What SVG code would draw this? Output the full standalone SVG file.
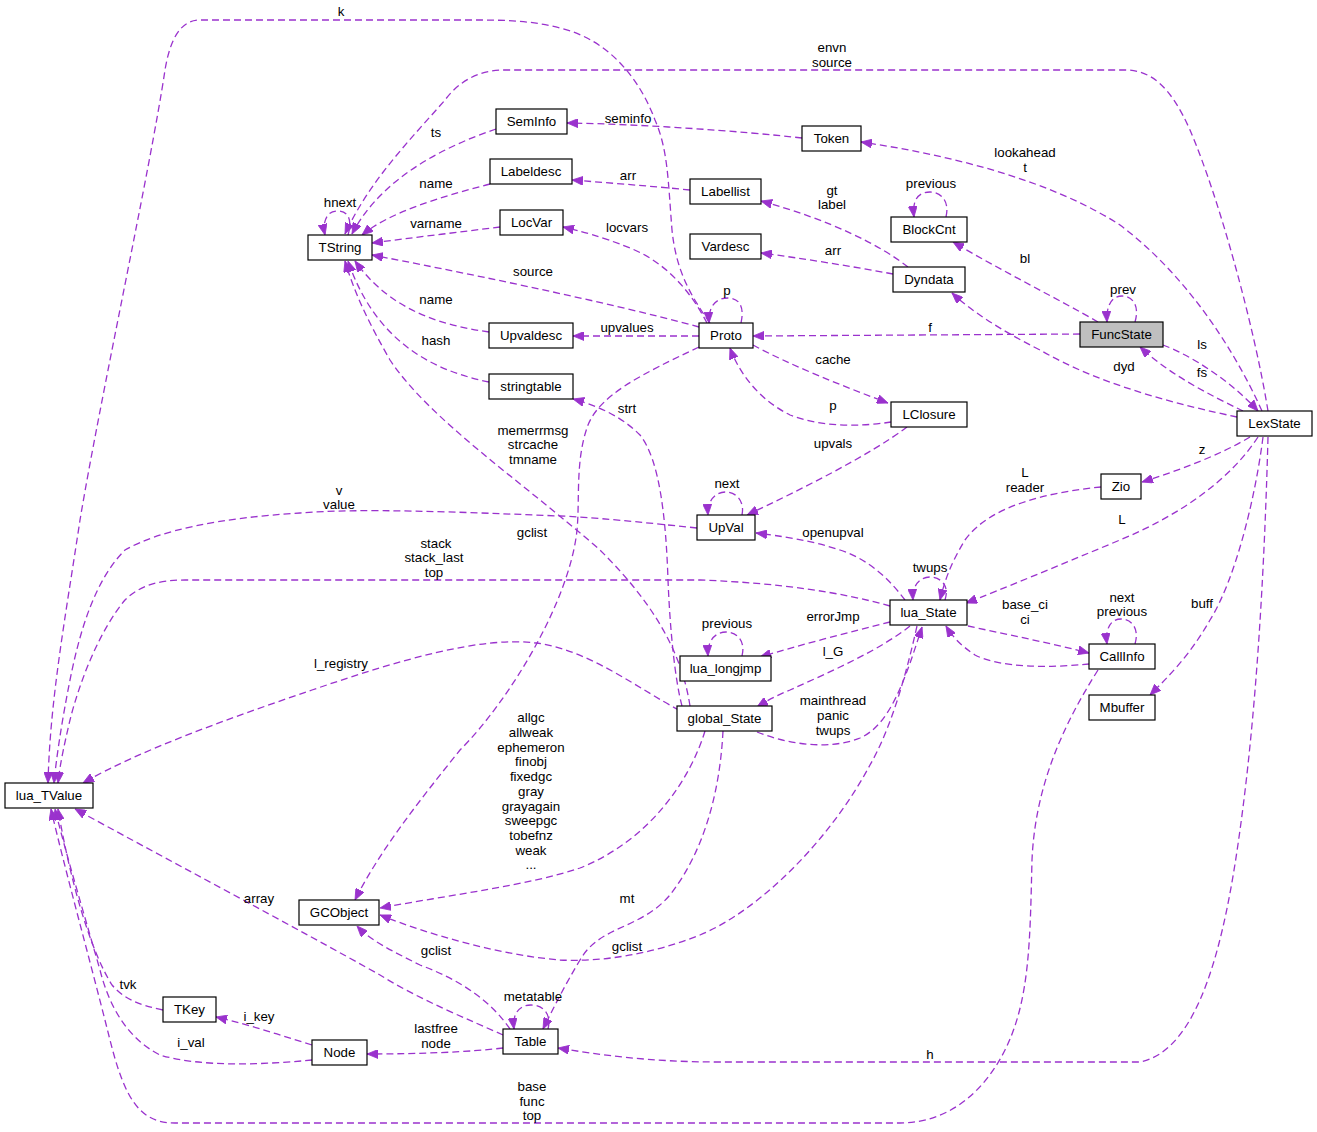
<svg xmlns="http://www.w3.org/2000/svg" width="1317" height="1132" viewBox="0 0 1317 1132">
<style>
.n rect{fill:#fff;stroke:#000;stroke-width:1.2}
.n text{font-family:"Liberation Sans",Arial,sans-serif;font-size:13.3px;text-anchor:middle;fill:#000}
.e path{fill:none;stroke:#9a32cd;stroke-width:1.3;stroke-dasharray:7,4;marker-end:url(#a)}
.l text{font-family:"Liberation Sans",Arial,sans-serif;font-size:13.3px;text-anchor:middle;fill:#000}
</style>
<defs>
<marker id="a" viewBox="0 0 11 9" refX="11" refY="4.5" markerWidth="11" markerHeight="9" markerUnits="userSpaceOnUse" orient="auto">
<path d="M0,0 L11,4.5 L0,9 z" fill="#9a32cd" stroke="#9a32cd" stroke-width="0.8"/>
</marker>
</defs>
<rect width="1317" height="1132" fill="#fff"/>
<g id="edges" class="e">
<path d="M710,323 C690,295 676,270 672,230 C668,180 668,150 655,120 C640,80 610,40 560,28 C530,20 500,20 470,20 L200,20 C180,20 170,40 165,70 C150,170 100,400 80,520 C65,620 50,700 48,783"/>
<path d="M1268,411 C1255,330 1220,200 1190,130 C1170,85 1150,70 1125,70 L505,70 C480,70 460,80 445,100 C410,140 370,180 345,234"/>
<path d="M802,138 C740,131 640,124 567,123"/>
<path d="M496,129 C440,148 380,180 352,234"/>
<path d="M490,184 C440,197 390,212 362,235"/>
<path d="M500,227 C460,232 410,238 372,243"/>
<path d="M699,327 C600,300 450,270 372,255"/>
<path d="M489,332 C440,325 390,310 355,261"/>
<path d="M489,382 C430,370 375,340 348,261"/>
<path d="M690,706 C680,640 640,590 600,550 C520,480 430,420 390,360 C370,325 355,295 345,261"/>
<path d="M348,235 C352,222 350,211 337,211 C327,211 322,222 325,235"/>
<path d="M707,323 C690,290 665,262 630,248 C600,236 580,231 563,227"/>
<path d="M699,336 L573,336"/>
<path d="M741,323 C745,305 738,298 728,298 C717,298 708,305 709,323"/>
<path d="M1080,334 L753,336"/>
<path d="M753,345 C790,365 840,385 888,403"/>
<path d="M891,422 C860,427 820,427 790,415 C760,400 740,375 730,348"/>
<path d="M699,347 C640,375 600,395 588,425 C575,460 580,500 577,530 C570,600 510,700 460,750 C420,800 380,850 355,900"/>
<path d="M682,706 C675,680 670,630 668,580 C666,520 660,460 640,435 C620,415 595,405 573,399"/>
<path d="M690,190 C650,186 610,183 572,180"/>
<path d="M908,267 C880,245 830,220 761,201"/>
<path d="M946,217 C950,200 940,192 930,192 C918,192 912,200 914,217"/>
<path d="M893,274 C850,266 800,258 761,253"/>
<path d="M1098,322 C1060,300 1000,270 953,242"/>
<path d="M1135,322 C1140,305 1132,296 1122,296 C1112,296 1106,305 1107,322"/>
<path d="M1163,345 C1190,355 1230,380 1258,411"/>
<path d="M1243,411 C1210,395 1170,375 1140,347"/>
<path d="M1237,417 C1180,405 1100,385 1040,350 C1000,330 970,310 952,293"/>
<path d="M1262,411 C1230,340 1180,270 1120,225 C1050,180 950,155 861,142"/>
<path d="M907,427 C870,455 800,490 747,515"/>
<path d="M742,515 C745,500 735,492 726,492 C716,492 707,500 708,515"/>
<path d="M905,600 C890,580 870,560 840,550 C810,540 780,536 756,533"/>
<path d="M697,528 C640,522 590,517 560,516 C460,512 360,508 300,513 C220,518 160,530 125,550 C95,580 80,630 70,680 C62,720 56,760 54,783"/>
<path d="M890,606 C840,592 780,583 700,580 L185,580 C160,580 140,585 125,600 C100,630 80,680 70,720 C63,750 60,765 58,783"/>
<path d="M945,600 C950,585 940,577 930,577 C920,577 912,585 913,600"/>
<path d="M1101,487 C1050,492 990,505 965,540 C950,565 945,580 940,600"/>
<path d="M1258,437 C1230,480 1180,515 1120,540 C1060,565 1000,590 966,603"/>
<path d="M1250,437 C1220,455 1180,470 1142,482"/>
<path d="M1263,437 C1255,500 1235,580 1210,620 C1190,655 1170,675 1150,695"/>
<path d="M1268,437 C1265,550 1258,700 1240,830 C1225,940 1200,1050 1140,1062 L720,1062 C650,1062 600,1055 558,1048"/>
<path d="M968,626 C1000,633 1050,643 1089,653"/>
<path d="M1089,664 C1050,668 1000,668 975,655 C960,645 952,636 946,626"/>
<path d="M1135,644 C1140,627 1130,619 1121,619 C1111,619 1105,628 1107,644"/>
<path d="M890,622 C850,632 800,645 760,657"/>
<path d="M742,656 C746,640 736,632 726,632 C716,632 707,640 708,656"/>
<path d="M910,626 C880,650 830,672 790,690 C775,696 765,702 757,707"/>
<path d="M757,732 C790,745 830,750 860,738 C890,725 905,680 922,627"/>
<path d="M917,626 C905,680 890,730 870,765 C830,840 760,910 700,935 C650,955 600,962 560,960 C500,955 430,935 380,915"/>
<path d="M705,731 C690,780 650,840 580,868 C530,885 450,895 380,908"/>
<path d="M723,731 C720,790 705,850 670,895 C640,930 600,925 580,960 C565,985 555,1005 543,1029"/>
<path d="M548,1029 C552,1013 542,1005 531,1005 C520,1005 512,1013 514,1029"/>
<path d="M510,1029 C490,1000 460,980 420,965 C390,950 370,940 357,926"/>
<path d="M503,1035 C470,1020 420,1000 380,975 C300,930 150,850 75,809"/>
<path d="M503,1048 C470,1052 420,1054 367,1054"/>
<path d="M312,1045 C280,1035 250,1025 216,1017"/>
<path d="M163,1010 C140,1005 125,1000 112,985 C90,950 70,880 58,809"/>
<path d="M312,1060 C260,1065 200,1067 160,1055 C130,1040 110,1010 100,970 C80,900 65,850 55,809"/>
<path d="M1098,670 C1060,730 1035,790 1032,860 C1030,940 1030,1000 1005,1050 C985,1090 950,1123 900,1123 L175,1123 C140,1123 125,1100 110,1040 C90,960 65,870 51,809"/>
<path d="M679,710 C640,690 590,650 536,643 C480,636 400,660 312,690 C230,718 140,750 83,783"/>
</g>
<g id="labels" class="l">
<text x="341" y="16">k</text>
<text x="832" y="52">envn</text><text x="832" y="67">source</text>
<text x="628" y="123">seminfo</text>
<text x="436" y="137">ts</text>
<text x="1025" y="157">lookahead</text><text x="1025" y="172">t</text>
<text x="436" y="188">name</text>
<text x="628" y="180">arr</text>
<text x="832" y="195">gt</text><text x="832" y="209">label</text>
<text x="931" y="188">previous</text>
<text x="340" y="207">hnext</text>
<text x="436" y="228">varname</text>
<text x="627" y="232">locvars</text>
<text x="833" y="255">arr</text>
<text x="1025" y="263">bl</text>
<text x="533" y="276">source</text>
<text x="727" y="295">p</text>
<text x="1123" y="294">prev</text>
<text x="930" y="332">f</text>
<text x="1202" y="349">ls</text>
<text x="436" y="304">name</text>
<text x="627" y="332">upvalues</text>
<text x="1124" y="371">dyd</text>
<text x="1202" y="377">fs</text>
<text x="436" y="345">hash</text>
<text x="833" y="364">cache</text>
<text x="627" y="413">strt</text>
<text x="833" y="410">p</text>
<text x="533" y="435">memerrmsg</text><text x="533" y="449">strcache</text><text x="533" y="464">tmname</text>
<text x="833" y="448">upvals</text>
<text x="1202" y="454">z</text>
<text x="1025" y="477">L</text><text x="1025" y="492">reader</text>
<text x="339" y="495">v</text><text x="339" y="509">value</text>
<text x="727" y="488">next</text>
<text x="532" y="537">gclist</text>
<text x="833" y="537">openupval</text>
<text x="1122" y="524">L</text>
<text x="436" y="548">stack</text><text x="434" y="562">stack_last</text><text x="434" y="577">top</text>
<text x="930" y="572">twups</text>
<text x="1025" y="609">base_ci</text><text x="1025" y="624">ci</text>
<text x="1122" y="602">next</text><text x="1122" y="616">previous</text>
<text x="1202" y="608">buff</text>
<text x="727" y="628">previous</text>
<text x="833" y="621">errorJmp</text>
<text x="341" y="668">l_registry</text>
<text x="833" y="656">l_G</text>
<text x="833" y="705">mainthread</text><text x="833" y="720">panic</text><text x="833" y="735">twups</text>
<text x="531" y="722">allgc</text><text x="531" y="737">allweak</text><text x="531" y="752">ephemeron</text><text x="531" y="766">finobj</text><text x="531" y="781">fixedgc</text><text x="531" y="796">gray</text><text x="531" y="811">grayagain</text><text x="531" y="825">sweepgc</text><text x="531" y="840">tobefnz</text><text x="531" y="855">weak</text><text x="531" y="869">...</text>
<text x="627" y="903">mt</text>
<text x="259" y="903">array</text>
<text x="436" y="955">gclist</text>
<text x="627" y="951">gclist</text>
<text x="533" y="1001">metatable</text>
<text x="128" y="989">tvk</text>
<text x="259" y="1021">i_key</text>
<text x="436" y="1033">lastfree</text><text x="436" y="1048">node</text>
<text x="191" y="1047">i_val</text>
<text x="930" y="1059">h</text>
<text x="532" y="1091">base</text><text x="532" y="1106">func</text><text x="532" y="1120">top</text>
</g>
<g id="node-FuncState" class="n"><rect x="1080" y="322" width="83" height="25" style="fill:#bfbfbf"/><text x="1121.5" y="339">FuncState</text></g>
<g id="node-Proto" class="n"><rect x="699" y="323" width="54" height="25"/><text x="726" y="340">Proto</text></g>
<g id="node-TString" class="n"><rect x="308" y="235" width="64" height="25"/><text x="340" y="252">TString</text></g>
<g id="node-SemInfo" class="n"><rect x="496" y="109" width="71" height="25"/><text x="531.5" y="126">SemInfo</text></g>
<g id="node-Labeldesc" class="n"><rect x="490" y="159" width="82" height="25"/><text x="531" y="176">Labeldesc</text></g>
<g id="node-LocVar" class="n"><rect x="500" y="210" width="63" height="25"/><text x="531.5" y="227">LocVar</text></g>
<g id="node-Upvaldesc" class="n"><rect x="489" y="323" width="84" height="25"/><text x="531" y="340">Upvaldesc</text></g>
<g id="node-stringtable" class="n"><rect x="489" y="374" width="84" height="25"/><text x="531" y="391">stringtable</text></g>
<g id="node-Token" class="n"><rect x="802" y="126" width="59" height="25"/><text x="831.5" y="143">Token</text></g>
<g id="node-Labellist" class="n"><rect x="690" y="179" width="71" height="25"/><text x="725.5" y="196">Labellist</text></g>
<g id="node-Vardesc" class="n"><rect x="690" y="234" width="71" height="25"/><text x="725.5" y="251">Vardesc</text></g>
<g id="node-BlockCnt" class="n"><rect x="891" y="217" width="76" height="25"/><text x="929" y="234">BlockCnt</text></g>
<g id="node-Dyndata" class="n"><rect x="893" y="267" width="72" height="25"/><text x="929" y="284">Dyndata</text></g>
<g id="node-LClosure" class="n"><rect x="891" y="402" width="76" height="25"/><text x="929" y="419">LClosure</text></g>
<g id="node-LexState" class="n"><rect x="1237" y="411" width="75" height="25"/><text x="1274.5" y="428">LexState</text></g>
<g id="node-Zio" class="n"><rect x="1101" y="474" width="40" height="25"/><text x="1121" y="491">Zio</text></g>
<g id="node-UpVal" class="n"><rect x="697" y="515" width="58" height="25"/><text x="726" y="532">UpVal</text></g>
<g id="node-lua_State" class="n"><rect x="890" y="600" width="77" height="25"/><text x="928.5" y="617">lua_State</text></g>
<g id="node-lua_longjmp" class="n"><rect x="680" y="656" width="91" height="25"/><text x="725.5" y="673">lua_longjmp</text></g>
<g id="node-CallInfo" class="n"><rect x="1089" y="644" width="66" height="25"/><text x="1122" y="661">CallInfo</text></g>
<g id="node-Mbuffer" class="n"><rect x="1089" y="695" width="66" height="25"/><text x="1122" y="712">Mbuffer</text></g>
<g id="node-global_State" class="n"><rect x="677" y="706" width="95" height="25"/><text x="724.5" y="723">global_State</text></g>
<g id="node-lua_TValue" class="n"><rect x="5" y="783" width="88" height="25"/><text x="49" y="800">lua_TValue</text></g>
<g id="node-GCObject" class="n"><rect x="299" y="900" width="80" height="25"/><text x="339" y="917">GCObject</text></g>
<g id="node-TKey" class="n"><rect x="163" y="997" width="53" height="25"/><text x="189.5" y="1014">TKey</text></g>
<g id="node-Node" class="n"><rect x="312" y="1040" width="55" height="25"/><text x="339.5" y="1057">Node</text></g>
<g id="node-Table" class="n"><rect x="503" y="1029" width="55" height="25"/><text x="530.5" y="1046">Table</text></g>
</svg>
